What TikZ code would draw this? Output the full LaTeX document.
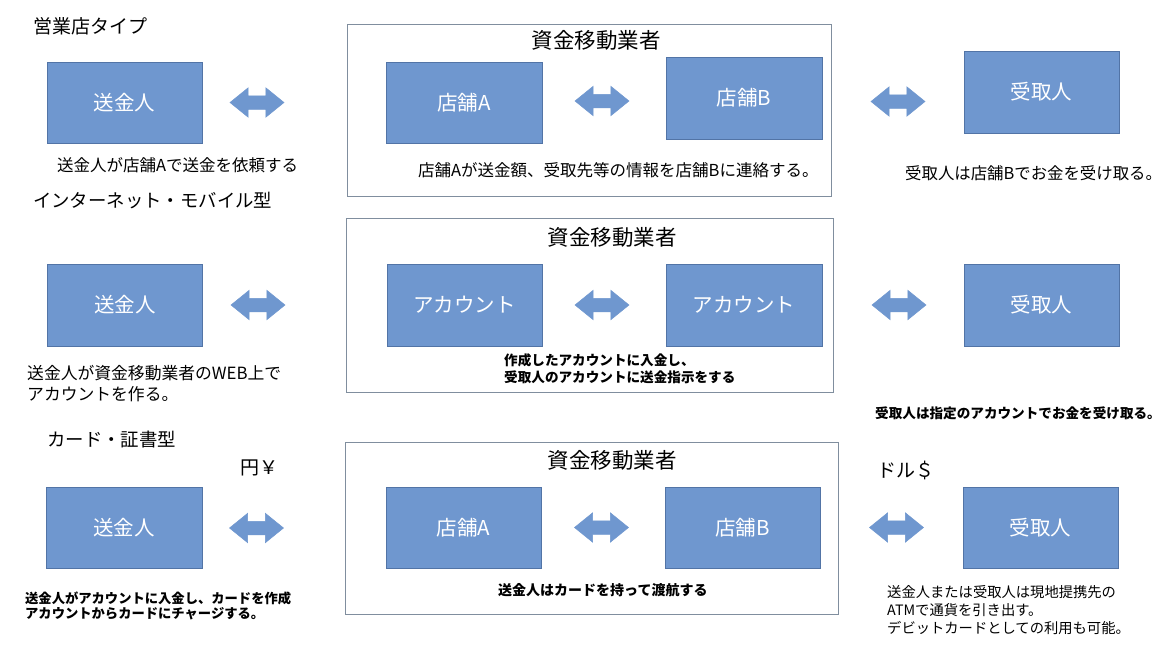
\documentclass[tikz,border=0pt]{standalone}
\usepackage{fontspec}
\setmainfont{Noto Sans CJK JP}
\usetikzlibrary{shapes.arrows}
\definecolor{boxblue}{RGB}{111,151,207}
\definecolor{boxedge}{RGB}{82,116,166}
\definecolor{framecol}{RGB}{128,142,158}
\begin{document}
\begin{tikzpicture}[x=1pt,y=-1pt,
  party/.style={draw=boxedge, line width=0.8pt, fill=boxblue, minimum width=155pt, minimum height=81pt, inner sep=0pt, text=white, font=\fontsize{20.5}{24}\selectfont},
  darrow/.style={double arrow, fill=boxblue, draw=boxblue, line width=0.5pt, minimum height=54pt, minimum width=29pt, double arrow head extend=8pt, double arrow tip angle=78, inner xsep=0pt, inner ysep=6.5pt},
  company/.style={draw=framecol, line width=0.8pt, fill=white, inner sep=0pt},
  sect/.style={anchor=west, inner sep=0pt, font=\fontsize{18.4}{22}\selectfont},
  comptitle/.style={inner sep=0pt, font=\fontsize{21.5}{24}\selectfont},
  captxt/.style={anchor=west, inner sep=0pt, font=\fontsize{16.5}{20}\selectfont},
  capb/.style={anchor=west, inner sep=0pt, align=left, font=\fontsize{13.6}{16}\selectfont\bfseries},
  cur/.style={anchor=west, inner sep=0pt, font=\fontsize{19}{22}\selectfont}]
\useasboundingbox[fill=white] (0,0) rectangle (1171,659);

% ---------- Row 1 ----------
\node[sect, font=\fontsize{19}{22}\selectfont] (t1) at (33,26) {営業店タイプ};
\node[company, minimum width=484pt, minimum height=172pt] (c1) at (589,110) {};
\node[comptitle] (ct1) at (596,40) {資金移動業者};
\node[party] (s1) at (124.5,102.5) {送金人};
\node[darrow] (a11) at (257,102.5) {};
\node[party, minimum width=156pt] (A1) at (464,102.5) {店舗A};
\node[darrow] (a12) at (602,101) {};
\node[party, minimum width=156pt, minimum height=82pt] (B1) at (744,98) {店舗B};
\node[darrow] (a13) at (898,101.5) {};
\node[party, minimum height=82pt] (r1) at (1041.5,92) {受取人};
\node[captxt] (p11) at (57,165) {送金人が店舗Aで送金を依頼する};
\node[captxt] (p12) at (418,170) {店舗Aが送金額、受取先等の情報を店舗Bに連絡する。};
\node[captxt, font=\fontsize{16.4}{20}\selectfont] (p13) at (905,173) {受取人は店舗Bでお金を受け取る。};

% ---------- Row 2 ----------
\node[sect] (t2) at (33,201) {インターネット・モバイル型};
\node[company, minimum width=487pt, minimum height=174pt] (c2) at (589.5,305) {};
\node[comptitle] (ct2) at (612,237) {資金移動業者};
\node[party, minimum height=82pt] (s2) at (125,305) {送金人};
\node[darrow] (a21) at (258,305) {};
\node[party, minimum height=82pt] (A2) at (464.5,305) {アカウント};
\node[darrow] (a22) at (602,305) {};
\node[party, minimum width=156pt, minimum height=82pt] (B2) at (744,305) {アカウント};
\node[darrow] (a23) at (899,305) {};
\node[party, minimum height=82pt] (r2) at (1041.5,305) {受取人};
\node[captxt, align=left, font=\fontsize{16.8}{21}\selectfont] (p21) at (27,384) {送金人が資金移動業者のWEB上で\\アカウントを作る。};
\node[capb, font=\fontsize{13.6}{17}\selectfont\bfseries] (p22) at (504,368.5) {作成したアカウントに入金し、\\受取人のアカウントに送金指示をする};
\node[capb] (p23) at (875,413) {受取人は指定のアカウントでお金を受け取る。};

% ---------- Row 3 ----------
\node[sect] (t3) at (47,440) {カード・証書型};
\node[cur] (yen) at (240,468) {円￥};
\node[company, minimum width=493pt, minimum height=172pt] (c3) at (591.5,528) {};
\node[comptitle] (ct3) at (612,460) {資金移動業者};
\node[party, minimum width=156pt] (s3) at (124,527.5) {送金人};
\node[darrow] (a31) at (256.5,528) {};
\node[party] (A3) at (463.5,527.5) {店舗A};
\node[darrow] (a32) at (601.5,527.5) {};
\node[party] (B3) at (742.5,527.5) {店舗B};
\node[cur] (usd) at (877,470) {ドル＄};
\node[darrow] (a33) at (896.5,527.5) {};
\node[party] (r3) at (1040.5,527.5) {受取人};
\node[capb, font=\fontsize{13.3}{15}\selectfont\bfseries] (p31) at (25,605.5) {送金人がアカウントに入金し、カードを作成\\アカウントからカードにチャージする。};
\node[capb, font=\fontsize{14}{17}\selectfont\bfseries] (p32) at (498,590) {送金人はカードを持って渡航する};
\node[captxt, align=left, font=\fontsize{14.3}{18}\selectfont] (p33) at (887,610) {送金人または受取人は現地提携先の\\ATMで通貨を引き出す。\\デビットカードとしての利用も可能。};
\end{tikzpicture}
\end{document}
